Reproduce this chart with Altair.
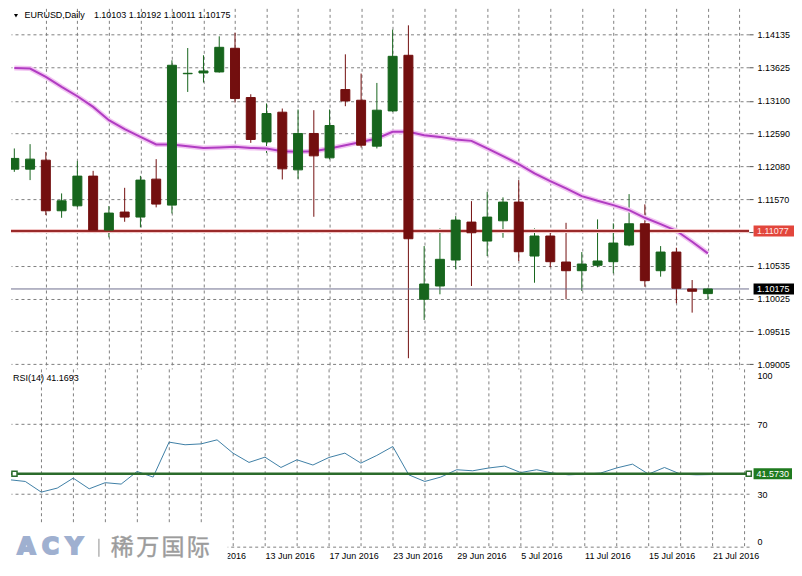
import json
import altair as alt
import pandas as pd

# ---------------- data ----------------
dates = [
    "20 May 2016", "23 May 2016", "24 May 2016", "25 May 2016", "26 May 2016", "27 May 2016",
    "30 May 2016", "31 May 2016", "1 Jun 2016", "2 Jun 2016", "3 Jun 2016",
    "6 Jun 2016", "7 Jun 2016", "8 Jun 2016", "9 Jun 2016", "10 Jun 2016",
    "13 Jun 2016", "14 Jun 2016", "15 Jun 2016", "16 Jun 2016", "17 Jun 2016",
    "20 Jun 2016", "21 Jun 2016", "22 Jun 2016", "23 Jun 2016", "24 Jun 2016",
    "27 Jun 2016", "28 Jun 2016", "29 Jun 2016", "30 Jun 2016", "1 Jul 2016",
    "4 Jul 2016", "5 Jul 2016", "6 Jul 2016", "7 Jul 2016", "8 Jul 2016",
    "11 Jul 2016", "12 Jul 2016", "13 Jul 2016", "14 Jul 2016", "15 Jul 2016",
    "18 Jul 2016", "19 Jul 2016", "20 Jul 2016", "21 Jul 2016",
]
opens = [1.12038, 1.12038, 1.12178, 1.11391, 1.11468, 1.11930, 1.11091, 1.11371, 1.11293, 1.11883,
         1.11479, 1.13522, 1.13534, 1.13550, 1.13918, 1.13152, 1.12462, 1.12924, 1.12027, 1.12593,
         1.12214, 1.13276, 1.13110, 1.12396, 1.12944, 1.13809, 1.10015, 1.10221, 1.10625, 1.11215,
         1.10920, 1.11235, 1.11526, 1.10687, 1.10998, 1.10594, 1.10459, 1.10543, 1.10599, 1.10858,
         1.11189, 1.10459, 1.10749, 1.10175, 1.10103]
highs = [1.12360, 1.12427, 1.12307, 1.11661, 1.12163, 1.12012, 1.11464, 1.11748, 1.11934, 1.12194,
         1.13731, 1.13922, 1.13809, 1.14104, 1.14161, 1.13203, 1.13059, 1.12981, 1.12966, 1.12955,
         1.12966, 1.13824, 1.13525, 1.13379, 1.14208, 1.14275, 1.10842, 1.11117, 1.11308, 1.11541,
         1.11686, 1.11599, 1.11868, 1.11117, 1.11065, 1.11204, 1.10749, 1.11257, 1.11195, 1.11650,
         1.11490, 1.10842, 1.10816, 1.10314, 1.10192]
lows = [1.11996, 1.11868, 1.11324, 1.11282, 1.11448, 1.11075, 1.10978, 1.11220, 1.11133, 1.11444,
        1.11350, 1.13239, 1.13385, 1.13540, 1.13074, 1.12447, 1.12291, 1.11878, 1.11888, 1.11298,
        1.12190, 1.13017, 1.12375, 1.12360, 1.12930, 1.09098, 1.09693, 1.10092, 1.10481, 1.10221,
        1.10687, 1.10971, 1.10610, 1.10272, 1.10512, 1.10015, 1.10144, 1.10512, 1.10418, 1.10840,
        1.10210, 1.10366, 1.09953, 1.09807, 1.10011]
closes = [1.12205, 1.12194, 1.11391, 1.11546, 1.11930, 1.11091, 1.11355, 1.11293, 1.11868, 1.11495,
          1.13654, 1.13529, 1.13565, 1.13933, 1.13136, 1.12500, 1.12903, 1.12043, 1.12593, 1.12245,
          1.12717, 1.13099, 1.12411, 1.12955, 1.13793, 1.10956, 1.10252, 1.10636, 1.11246, 1.11049,
          1.11293, 1.11526, 1.10754, 1.10998, 1.10599, 1.10459, 1.10563, 1.10610, 1.10889, 1.11189,
          1.10304, 1.10749, 1.10186, 1.10139, 1.10175]
ma = [1.13612, 1.13602, 1.13472, 1.13317, 1.13172, 1.13006, 1.12799, 1.12660, 1.12540, 1.12422,
      1.12422, 1.12396, 1.12369, 1.12375, 1.12385, 1.12368, 1.12360, 1.12318, 1.12307, 1.12318,
      1.12360, 1.12411, 1.12462, 1.12515, 1.12618, 1.12621, 1.12566, 1.12540, 1.12500, 1.12478,
      1.12360, 1.12240, 1.12116, 1.11972, 1.11852, 1.11739, 1.11619, 1.11546, 1.11479, 1.11402,
      1.11282, 1.11184, 1.11080, 1.10909, 1.10729]
rsi = [38.2, 37.2, 31.1, 33.4, 39.1, 33.0, 36.5, 35.7, 42.9, 39.7,
       59.7, 58.2, 58.7, 61.0, 53.4, 48.1, 51.1, 45.2, 49.6, 46.6,
       50.9, 53.4, 47.7, 52.1, 57.2, 41.0, 37.2, 39.7, 43.9, 43.3,
       44.9, 46.0, 42.3, 43.9, 42.0, 41.0, 41.4, 42.0, 44.9, 47.1,
       41.4, 45.2, 41.4, 41.0, 41.17]

price_ticks = [1.14135, 1.13625, 1.13100, 1.12590, 1.12080, 1.11570, 1.11060,
               1.10535, 1.10025, 1.09515, 1.09005]
rsi_ticks = [100, 70, 30, 0]
grid_idx = list(range(2, 47, 2))
first_label_idx = 12
level_price = 1.11077
bid_price = 1.10175
rsi_level = 41.5730
symbol_text = "EURUSD,Daily"
ohlc_text = "1.10103 1.10192 1.10011 1.10175"
rsi_text = "RSI(14) 41.1693"
logo_latin = ["A", "C", "Y"]
logo_cjk = ["稀", "万", "国", "际"]

# ---------------- styling ----------------
FONT = "Liberation Sans"
FS = 9
GREEN = "#17651d"
RED = "#730f0f"
GRID = "#808080"
W = 739
H_MAIN = 361
H_RSI = 178
X_DOMAIN = [0.10625, 46.29375]
P_DOMAIN = [1.08932, 1.145388]
R_DOMAIN = [-0.11, 101.6]

df = pd.DataFrame({"i": list(range(len(dates))), "date": dates, "open": opens, "high": highs,
                   "low": lows, "close": closes, "ma": ma, "rsi": rsi})
df["up"] = df["close"] >= df["open"]

xscale = alt.Scale(domain=X_DOMAIN, nice=False, zero=False)
pscale = alt.Scale(domain=P_DOMAIN, nice=False, zero=False)
rscale = alt.Scale(domain=R_DOMAIN, nice=False, zero=False)

x_main_axis = alt.Axis(values=grid_idx, labels=False, ticks=False, domain=False, grid=True,
                       gridColor=GRID, gridDash=[3, 3], gridWidth=1, title=None)
p_axis = alt.Axis(orient="right", values=price_ticks, format=".5f", grid=True, gridColor=GRID,
                  gridDash=[3, 3], gridWidth=1, ticks=True, tickSize=4, tickColor="#505050",
                  labelPadding=4, domain=False, labelFont=FONT, labelFontSize=FS,
                  labelColor="black", labelOverlap=False, labelFlush=False, title=None)

col = alt.condition("datum.up", alt.value(GREEN), alt.value(RED))

X = alt.X("i:Q", scale=xscale, axis=x_main_axis)
base = alt.Chart(df)
wicks = base.mark_rule(strokeWidth=1, clip=True).encode(
    x=X,
    y=alt.Y("low:Q", scale=pscale, axis=p_axis),
    y2="high:Q",
    color=col,
)
bodies = base.mark_bar(size=9, strokeWidth=1, clip=True).encode(
    x=X,
    y=alt.Y("open:Q", scale=pscale, axis=p_axis),
    y2="close:Q",
    color=col,
    stroke=col,
)
ma_glow = base.mark_line(color="#f2c4f2", strokeWidth=5, clip=True).encode(
    x=X, y=alt.Y("ma:Q", scale=pscale, axis=p_axis))
ma_line = base.mark_line(color="#b03cc2", strokeWidth=2, clip=True).encode(
    x=X, y=alt.Y("ma:Q", scale=pscale, axis=p_axis))

lvl = alt.Chart(pd.DataFrame({"v": [level_price], "t": [f"{level_price:.5f}"]}))
PY = alt.Y("v:Q", scale=pscale, axis=p_axis)
lvl_glow = lvl.mark_rule(color="#f3c6c6", strokeWidth=4).encode(y=PY)
lvl_line = lvl.mark_rule(color="#9a2a2a", strokeWidth=2).encode(y=PY)
lvl_box = lvl.mark_rect(color="#e2463c", yOffset=-5.5, y2Offset=5.5, clip=False).encode(
    y=PY, y2="v:Q", x=alt.value(743.5), x2=alt.value(784))
lvl_txt = lvl.mark_text(align="left", baseline="middle", font=FONT, fontSize=FS,
                        color="#ffe8e8", clip=False).encode(
    y=PY, x=alt.value(747), text="t:N")

bid = alt.Chart(pd.DataFrame({"v": [bid_price], "t": [f"{bid_price:.5f}"]}))
bid_line = bid.mark_rule(color="#6e6e8e", strokeWidth=1).encode(y=PY)
bid_box = bid.mark_rect(color="black", yOffset=-5.5, y2Offset=5.5, clip=False).encode(
    y=PY, y2="v:Q", x=alt.value(743.5), x2=alt.value(784))
bid_txt = bid.mark_text(align="left", baseline="middle", font=FONT, fontSize=FS,
                        color="white", clip=False).encode(
    y=PY, x=alt.value(747), text="t:N")

ttl = alt.Chart(pd.DataFrame({"a": [symbol_text], "b": [ohlc_text]}))
tri = ttl.mark_point(shape="triangle-down", filled=True, size=16, color="black", opacity=1).encode(
    x=alt.value(5), y=alt.value(7.5))
ttl_a = ttl.mark_text(align="left", baseline="middle", font=FONT, fontSize=FS, color="black").encode(
    x=alt.value(13.5), y=alt.value(7), text="a:N")
ttl_b = ttl.mark_text(align="left", baseline="middle", font=FONT, fontSize=FS, color="black").encode(
    x=alt.value(83), y=alt.value(7), text="b:N")

main = alt.layer(wicks, ma_glow, ma_line, lvl_glow, lvl_line, bid_line, bodies,
                 lvl_box, lvl_txt, bid_box, bid_txt, tri, ttl_a, ttl_b).properties(
    width=W, height=H_MAIN)

# ---------------- RSI panel ----------------
label_expr = (f"datum.value % 4 == 0 && datum.value >= {first_label_idx} "
              f"? {json.dumps(dates)}[datum.value] : ''")
x_rsi_axis = alt.Axis(values=grid_idx, labelExpr=label_expr, ticks=False, domain=False, grid=True,
                      gridColor=GRID, gridDash=[3, 3], gridWidth=1, labelAlign="left",
                      labelBaseline="top", labelPadding=5, labelFont=FONT, labelFontSize=FS,
                      labelColor="black", labelOverlap=False, labelFlush=False, labelBound=False,
                      title=None)
r_axis = alt.Axis(orient="right", values=rsi_ticks, grid=True, gridColor=GRID, gridDash=[3, 3],
                  gridWidth=1,
                  gridOpacity={"condition": {"test": "datum.value == 100", "value": 0}, "value": 1},
                  labelBaseline={"condition": [{"test": "datum.value == 100", "value": "top"},
                                               {"test": "datum.value == 0", "value": "bottom"}],
                                 "value": "middle"},
                  ticks=False, labelPadding=8, domain=False, labelFont=FONT, labelFontSize=FS,
                  labelColor="black", labelOverlap=False, labelFlush=False, title=None)

XR = alt.X("i:Q", scale=xscale, axis=x_rsi_axis)
RY = alt.Y("v:Q", scale=rscale, axis=r_axis)
rsi_line = base.mark_line(color="#3f80a6", strokeWidth=1, clip=True).encode(
    x=XR,
    y=alt.Y("rsi:Q", scale=rscale, axis=r_axis),
)
rl = alt.Chart(pd.DataFrame({"v": [rsi_level], "t": [f"{rsi_level:.4f}"]}))
rl_line = rl.mark_rule(color="#2b6b2b", strokeWidth=2.5).encode(y=RY)
rl_sq_r = rl.mark_square(size=26, fill="white", stroke="#2b6b2b", strokeWidth=1.5, opacity=1,
                         clip=False).encode(y=RY, x=alt.value(738.7))
rl_sq_l = rl.mark_square(size=26, fill="white", stroke="#2b6b2b", strokeWidth=1.5, opacity=1,
                         clip=False).encode(y=RY, x=alt.value(3.5))
rl_box = rl.mark_rect(color="#1f7a1f", yOffset=-5.5, y2Offset=5.5, clip=False).encode(
    y=RY, y2="v:Q", x=alt.value(743.5), x2=alt.value(782))
rl_txt = rl.mark_text(align="left", baseline="middle", font=FONT, fontSize=FS,
                      color="white", clip=False).encode(
    y=RY, x=alt.value(746.5), text="t:N")

rt = alt.Chart(pd.DataFrame({"t": [rsi_text]}))
rsi_title = rt.mark_text(align="left", baseline="middle", font=FONT, fontSize=FS, color="black").encode(
    x=alt.value(2), y=alt.value(9.5), text="t:N")

# logo watermark (white box over the bottom-left corner)
logo_box = rt.mark_rect(color="white", clip=False).encode(
    x=alt.value(0), x2=alt.value(217), y=alt.value(156), y2=alt.value(198))
logo_layers = [logo_box]
for k, ch in enumerate(logo_latin):
    logo_layers.append(
        alt.Chart(pd.DataFrame({"t": [ch]})).mark_text(
            align="center", baseline="middle", font="DejaVu Sans", fontSize=23, fontWeight="bold",
            color="#9fb0d0", stroke="#9fb0d0", strokeWidth=2.2, clip=False).encode(
            x=alt.value(15.5 + 24 * k), y=alt.value(178.5), text="t:N"))
logo_layers.append(rt.mark_rule(color="#b4b4b4", strokeWidth=1.5, clip=False).encode(
    x=alt.value(88), y=alt.value(170), y2=alt.value(188)))
for k, ch in enumerate(logo_cjk):
    logo_layers.append(
        alt.Chart(pd.DataFrame({"t": [ch]})).mark_text(
            align="center", baseline="middle", font="Noto Sans CJK SC", fontSize=23,
            color="#9c9c9c", stroke="#9c9c9c", strokeWidth=0.4, clip=False).encode(
            x=alt.value(111.5 + 25.3 * k), y=alt.value(179), text="t:N"))

rsi_panel = alt.layer(rsi_line, rl_line, rl_sq_l, rl_sq_r, rl_box, rl_txt, rsi_title,
                      *logo_layers).properties(width=W, height=H_RSI)

chart = alt.vconcat(main, rsi_panel, spacing=0, bounds="flush").properties(
    padding=0, background="white"
).configure_view(strokeWidth=0).configure_axis(labelOverlap=False)

chart.save("out.html", embed_options={"renderer": "svg", "actions": False})
